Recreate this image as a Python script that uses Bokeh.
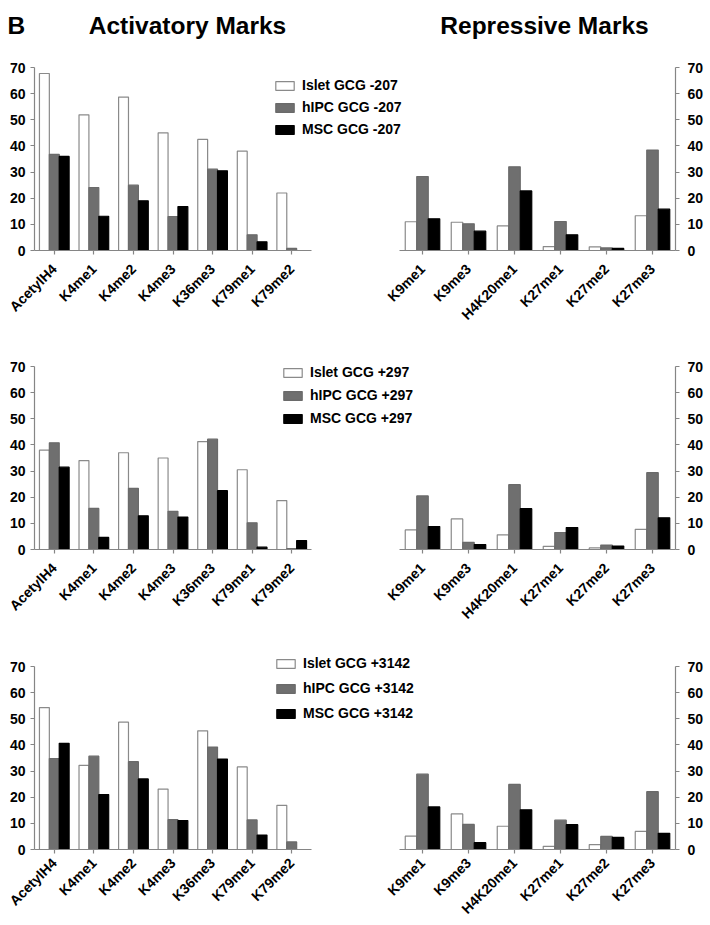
import math
from bokeh.plotting import figure
from bokeh.models import (FactorRange, Range1d, FixedTicker, Legend, LegendItem,
                          ColumnDataSource, Label)
from bokeh.transform import dodge
from bokeh.layouts import column, row
from bokeh.embed import file_html
from bokeh.resources import INLINE

# ---------------- data ----------------
act_marks = ["AcetylH4", "K4me1", "K4me2", "K4me3", "K36me3", "K79me1", "K79me2"]
rep_marks = ["K9me1", "K9me3", "H4K20me1", "K27me1", "K27me2", "K27me3"]
y_ticks = [0, 10, 20, 30, 40, 50, 60, 70]
sites = ["-207", "+297", "+3142"]
groups = ["Islet GCG", "hIPC GCG", "MSC GCG"]

# GCG -207
act_islet_207 = [67.7, 51.9, 58.7, 45.0, 42.5, 38.0, 22.0]
act_hipc_207 = [36.8, 24.1, 25.0, 13.0, 31.1, 6.0, 0.8]
act_msc_207 = [36.0, 13.1, 19.0, 16.8, 30.5, 3.3, 0.0]
rep_islet_207 = [11.0, 10.8, 9.4, 1.5, 1.4, 13.3]
rep_hipc_207 = [28.3, 10.2, 32.0, 11.1, 1.0, 38.4]
rep_msc_207 = [12.1, 7.4, 22.8, 6.0, 0.8, 15.8]

# GCG +297
act_islet_297 = [38.0, 34.0, 37.0, 35.0, 41.3, 30.5, 18.7]
act_hipc_297 = [40.8, 15.7, 23.4, 14.6, 42.2, 10.2, 0.3]
act_msc_297 = [31.5, 4.6, 12.9, 12.4, 22.5, 0.9, 3.4]
rep_islet_297 = [7.5, 11.7, 5.6, 1.2, 0.6, 7.7]
rep_hipc_297 = [20.5, 2.7, 24.8, 6.5, 1.7, 29.4]
rep_msc_297 = [8.8, 1.9, 15.6, 8.4, 1.3, 12.1]

# GCG +3142
act_islet_3142 = [54.3, 32.2, 48.7, 23.1, 45.4, 31.6, 16.9]
act_hipc_3142 = [34.8, 35.7, 33.6, 11.4, 39.2, 11.3, 2.9]
act_msc_3142 = [40.6, 21.0, 27.0, 11.1, 34.6, 5.5, 0.0]
rep_islet_3142 = [5.1, 13.6, 8.9, 1.2, 1.9, 6.9]
rep_hipc_3142 = [28.8, 9.6, 24.9, 11.2, 5.0, 22.1]
rep_msc_3142 = [16.3, 2.6, 15.2, 9.5, 4.6, 6.2]

act_data = [
    (act_islet_207, act_hipc_207, act_msc_207),
    (act_islet_297, act_hipc_297, act_msc_297),
    (act_islet_3142, act_hipc_3142, act_msc_3142),
]
rep_data = [
    (rep_islet_207, rep_hipc_207, rep_msc_207),
    (rep_islet_297, rep_hipc_297, rep_msc_297),
    (rep_islet_3142, rep_hipc_3142, rep_msc_3142),
]

# ---------------- styling ----------------
FONT = "Liberation Sans"
AXIS_GRAY = "#858585"
FILLS = ["#ffffff", "#6f6f6f", "#000000"]
LINES = ["#8a8a8a", "#6a6a6a", "#000000"]
TICK_SIZE = "14px"
CAT_SIZE = "14px"

FRAME_H = 183
# (top border, bottom border, category-label standoff) per row
ROW_BORDERS = [(24, 82, 12), (34, 82, 12), (35, 76, 7)]
LEFT_BL, LEFT_FW, LEFT_W = 34, 277, 320
RIGHT_BL, RIGHT_FW, RIGHT_BR = 59, 276, 32
RIGHT_START = 340
# overlay strip that carries each row's legend
LEG_X0, LEG_W = 262, 170
# (left inset, top inset, item spacing) of the legend inside the strip
LEG_POS = [(11, 34, 6), (19, 32, 7), (12, 24, 9)]


def no_align(p):
    if "frame_align" in p.properties():
        p.frame_align = False


def style_axes(p, standoff):
    for ax in p.axis:
        ax.axis_line_color = AXIS_GRAY
        ax.axis_line_width = 1.2
        ax.major_tick_line_color = AXIS_GRAY
        ax.major_tick_line_width = 1.2
        ax.major_tick_out = 4
        ax.major_tick_in = 0
        ax.minor_tick_line_color = None
        ax.major_label_text_font = FONT
        ax.major_label_text_font_style = "bold"
        ax.major_label_text_color = "#000000"
    p.xaxis.major_label_text_font_size = CAT_SIZE
    p.yaxis.major_label_text_font_size = TICK_SIZE
    p.xaxis.major_label_orientation = math.pi / 4
    p.xaxis.major_label_standoff = standoff
    p.yaxis.ticker = FixedTicker(ticks=y_ticks)
    p.xgrid.grid_line_color = None
    p.ygrid.grid_line_color = None


def bars(p, cats, values):
    src = ColumnDataSource(dict(cat=cats, islet=values[0], hipc=values[1], msc=values[2]))
    rends = []
    for i, (col, off) in enumerate(zip(["islet", "hipc", "msc"], [-0.25, 0.0, 0.25])):
        rends.append(p.vbar(x=dodge("cat", off, range=p.x_range), top=col, width=0.25,
                            source=src, fill_color=FILLS[i], line_color=LINES[i],
                            line_width=1.2))
    return rends


def transparent(p):
    p.border_fill_color = None
    p.background_fill_color = None
    p.outline_line_color = None


def make_left(r):
    top_b, bot_b, so = ROW_BORDERS[r]
    p = figure(x_range=FactorRange(factors=act_marks, range_padding=0),
               y_range=Range1d(0, 70), title=None,
               width=LEFT_W, height=top_b + FRAME_H + bot_b,
               min_border_left=LEFT_BL, min_border_right=LEFT_W - LEFT_BL - LEFT_FW,
               min_border_top=top_b, min_border_bottom=bot_b,
               output_backend="svg", toolbar_location=None,
               styles={"z-index": "2", "position": "relative"})
    no_align(p)
    transparent(p)
    bars(p, act_marks, act_data[r])
    style_axes(p, so)
    p.yaxis.major_label_standoff = 5
    return p


def make_right(r):
    top_b, bot_b, so = ROW_BORDERS[r]
    p = figure(x_range=FactorRange(factors=rep_marks, range_padding=0),
               y_range=Range1d(0, 70), title=None,
               width=RIGHT_BL + RIGHT_FW + RIGHT_BR, height=top_b + FRAME_H + bot_b,
               min_border_left=RIGHT_BL, min_border_right=RIGHT_BR,
               min_border_top=top_b, min_border_bottom=bot_b,
               output_backend="svg", toolbar_location=None,
               y_axis_location="right",
               margin=(0, 0, 0, RIGHT_START - (LEG_X0 + LEG_W)),
               styles={"z-index": "1", "position": "relative"})
    no_align(p)
    transparent(p)
    bars(p, rep_marks, rep_data[r])
    style_axes(p, so)
    p.yaxis.major_label_standoff = 8
    return p


def make_legend_strip(r, site):
    """Transparent overlay whose frame holds the row's legend (drawn above both panels)."""
    top_b, bot_b, so = ROW_BORDERS[r]
    h = top_b + FRAME_H + bot_b
    lx, ly, sp = LEG_POS[r]
    # the series are drawn here too, but on a y-range above them, so only the legend shows
    p = figure(width=LEG_W, height=h,
               x_range=FactorRange(factors=act_marks), y_range=Range1d(100, 101),
               title=None, output_backend="svg", toolbar_location=None,
               x_axis_location=None, y_axis_location=None,
               min_border_left=lx, min_border_top=ly, min_border_right=0,
               min_border_bottom=0,
               margin=(0, 0, 0, LEG_X0 - LEFT_W),
               styles={"z-index": "3", "position": "relative"})
    no_align(p)
    p.grid.visible = False
    transparent(p)
    rends = bars(p, act_marks, act_data[r])
    items = [LegendItem(label=f"{g} {site}", renderers=[rr]) for g, rr in zip(groups, rends)]
    leg = Legend(items=items, location="top_left", orientation="vertical",
                 glyph_width=23, glyph_height=11, label_height=11,
                 spacing=sp, label_standoff=6, padding=0, margin=0,
                 border_line_color=None, background_fill_alpha=0,
                 label_text_font=FONT, label_text_font_style="bold",
                 label_text_font_size=TICK_SIZE, label_text_color="#000000")
    p.add_layout(leg)
    return p


# ---------------- title strip ----------------
TITLE_H = 43
title = figure(width=707, height=TITLE_H, x_range=Range1d(0, 707), y_range=Range1d(0, TITLE_H),
               min_border=0, title=None, output_backend="svg", toolbar_location=None,
               x_axis_location=None, y_axis_location=None)
no_align(title)
title.grid.visible = False
transparent(title)
for txt, x, align in [("B", 7, "left"), ("Activatory Marks", 187, "center"),
                      ("Repressive Marks", 544, "center")]:
    title.add_layout(Label(x=x, y=TITLE_H - 25, text=txt, text_font=FONT,
                           text_font_style="bold", text_font_size="24.5px",
                           text_align=align, text_baseline="alphabetic",
                           text_color="#000000"))

rows = [title]
for r, site in enumerate(sites):
    rows.append(row(make_left(r), make_legend_strip(r, site), make_right(r)))

layout = column(*rows)

open("out.html", "w").write(file_html(layout, INLINE))
